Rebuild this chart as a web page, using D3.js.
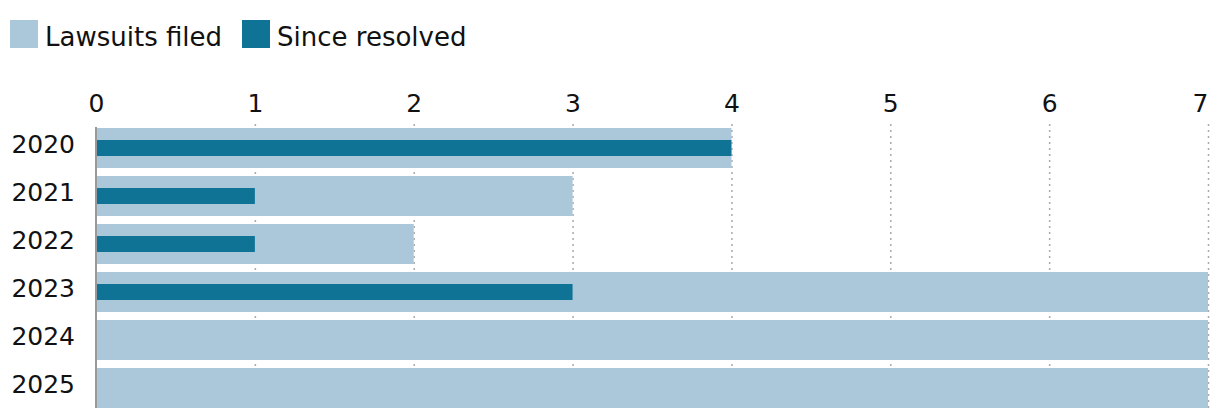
<!DOCTYPE html>
<html>
<head>
<meta charset="utf-8">
<script src="https://cdn.jsdelivr.net/npm/d3@7"></script>
<style>
  body { margin: 0; background: #fff; }
  svg text { font-family: "DejaVu Sans", sans-serif; fill: #111; }
</style>
</head>
<body>
<svg id="chart" width="1220" height="420"></svg>
<script>
const years = ["2020", "2021", "2022", "2023", "2024", "2025"];
const filed = [4, 3, 2, 7, 7, 7];
const resolved = [4, 1, 1, 3, 0, 0];
const tickValues = [0, 1, 2, 3, 4, 5, 6, 7];
const seriesNames = ["Lawsuits filed", "Since resolved"];
const seriesColors = ["#abc8da", "#0e7395"];

const FONT = "'DejaVu Sans', sans-serif";
const svg = d3.select("#chart");
const x = d3.scaleLinear().domain([0, 7]).range([96, 1208]);
const y = d3.scaleBand().domain(years).range([128, 408]).paddingInner(1/6).paddingOuter(0);

// gridlines
svg.append("g").selectAll("line").data(tickValues.filter(d => d > 0)).join("line")
  .attr("x1", d => x(d) + 0.5).attr("x2", d => x(d) + 0.5)
  .attr("y1", 124).attr("y2", 408)
  .attr("stroke", "#aaa").attr("stroke-width", 1.5)
  .attr("stroke-dasharray", "2,4");

// filed bars
svg.append("g").selectAll("rect").data(years).join("rect")
  .attr("x", x(0)).attr("y", d => y(d))
  .attr("width", (d, i) => x(filed[i]) - x(0))
  .attr("height", y.bandwidth())
  .attr("fill", seriesColors[0]);

// resolved bars
const inner = 16;
svg.append("g").selectAll("rect").data(years).join("rect")
  .attr("x", x(0)).attr("y", d => y(d) + (y.bandwidth() - inner) / 2)
  .attr("width", (d, i) => x(resolved[i]) - x(0))
  .attr("height", inner)
  .attr("fill", seriesColors[1]);

// left axis line
svg.append("line").attr("x1", 96).attr("x2", 96).attr("y1", 127).attr("y2", 408)
  .attr("stroke", "#999").attr("stroke-width", 2);

// top axis labels
const topAxis = svg.append("g").attr("transform", "translate(0,112)")
  .call(d3.axisTop(x).tickValues(tickValues).tickSize(0).tickPadding(0).tickFormat(d3.format("d")));
topAxis.select(".domain").remove();
topAxis.selectAll("text").attr("font-size", 25).attr("dy", 0)
  .style("font-family", FONT).attr("fill", "#111")
  .attr("text-anchor", d => d === 7 ? "end" : "middle");

// year labels
const leftAxis = svg.append("g").attr("transform", "translate(75,0)")
  .call(d3.axisLeft(y).tickSize(0).tickPadding(0));
leftAxis.select(".domain").remove();
leftAxis.selectAll("text").attr("font-size", 25).attr("dy", 5)
  .style("font-family", FONT).attr("fill", "#111");

// legend
const legendX = [10, 242];
const lg = svg.append("g").selectAll("g").data(seriesNames).join("g")
  .attr("transform", (d, i) => `translate(${legendX[i]},20)`);
lg.append("rect").attr("width", 28).attr("height", 28).attr("fill", (d, i) => seriesColors[i]);
lg.append("text").attr("x", 35).attr("y", 26).attr("font-size", 26).text(d => d);
</script>
</body>
</html>
